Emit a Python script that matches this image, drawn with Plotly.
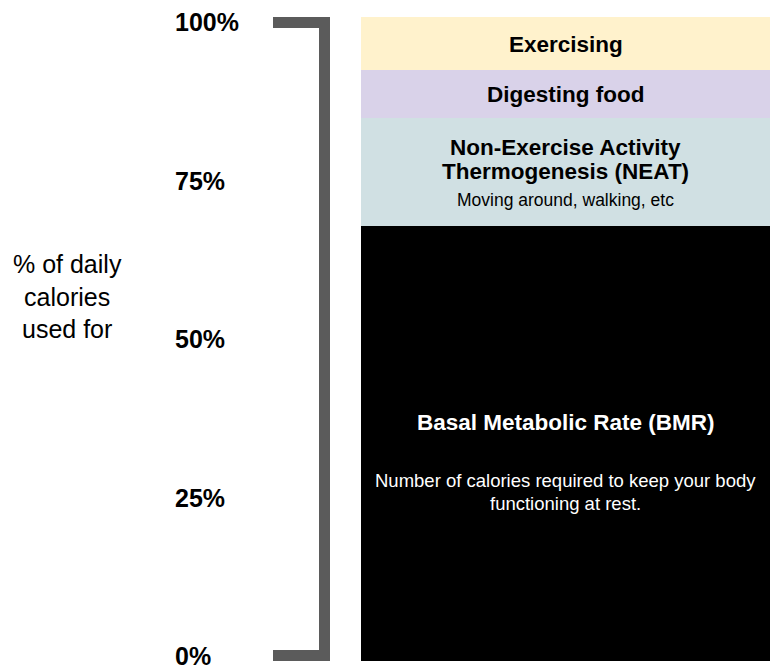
import plotly.graph_objects as go
import numpy as np

# Data (bottom to top of the stack)
components = ["Basal Metabolic Rate (BMR)", "Non-Exercise Activity Thermogenesis (NEAT)",
              "Digesting food", "Exercising"]
shares = [67.6, 16.7, 7.4, 8.3]
colors = ["#000000", "#d0e0e3", "#d9d2e9", "#fff2cc"]
text_colors = ["#ffffff", "#000000", "#000000", "#000000"]
tick_values = [0, 25, 50, 75, 100]
tick_labels = ["0%", "25%", "50%", "75%", "100%"]
category = ["Daily calories"]

FONT = "Liberation Sans, Arial, sans-serif"

fig = go.Figure()
for name, v, c in zip(components, shares, colors):
    fig.add_trace(go.Bar(x=category, y=[v], name=name, marker=dict(color=c, line=dict(width=0)),
                         hoverinfo="name+y", showlegend=False))

bases = np.concatenate([[0], np.cumsum(shares)[:-1]])
mids = bases + np.array(shares) / 2

# text lines per segment: (text, size, bold, yshift)
seg_lines = [
    [("Basal Metabolic Rate (BMR)", 22.5, True, 21),
     ("Number of calories required to keep your body", 18.5, False, -37),
     ("functioning at rest.", 18.5, False, -60)],
    [("Non-Exercise Activity", 22.5, True, 24),
     ("Thermogenesis (NEAT)", 22.5, True, 0),
     ("Moving around, walking, etc", 17.5, False, -28)],
    [("Digesting food", 22.5, True, 0)],
    [("Exercising", 22.5, True, -1)],
]

annotations = []
for mid, lines, tc in zip(mids, seg_lines, text_colors):
    for txt, size, bold, ysh in lines:
        annotations.append(dict(
            x=0, y=mid, xref="x", yref="y", text=f"<b>{txt}</b>" if bold else txt,
            showarrow=False, xanchor="center", yanchor="middle", yshift=ysh,
            font=dict(family=FONT, size=size, color=tc)))

annotations.append(dict(
    x=67 / 770, y=0.5, xref="paper", yref="paper", xanchor="center", yanchor="middle",
    yshift=43, text="% of daily<br>calories<br>used for", showarrow=False,
    font=dict(family=FONT, size=25, color="#000000"), align="center"))

# bracket
bracket_color = "#5b5b5b"
shapes = [
    dict(type="rect", xref="paper", yref="y", x0=273 / 770, x1=330 / 770,
         ysizemode="pixel", yanchor=100, y0=0, y1=-11,
         fillcolor=bracket_color, line=dict(width=0), layer="above"),
    dict(type="rect", xref="paper", yref="y", x0=319 / 770, x1=330 / 770, y0=0, y1=100,
         fillcolor=bracket_color, line=dict(width=0), layer="above"),
    dict(type="rect", xref="paper", yref="y", x0=273 / 770, x1=330 / 770,
         ysizemode="pixel", yanchor=0, y0=0, y1=11,
         fillcolor=bracket_color, line=dict(width=0), layer="above"),
]

fig.update_layout(
    width=770, height=666,
    margin=dict(l=0, r=0, t=17.3, b=5.3, pad=0, autoexpand=False),
    paper_bgcolor="#ffffff", plot_bgcolor="#ffffff",
    barmode="stack", bargap=0,
    xaxis=dict(domain=[361 / 770, 1], range=[-0.5, 0.5], showgrid=False, zeroline=False,
               showticklabels=False, showline=False, ticks="", automargin=False),
    yaxis=dict(range=[0, 100], showgrid=False, zeroline=False, showticklabels=False,
               showline=False, ticks="", automargin=False),
    yaxis2=dict(overlaying="y", side="right", anchor="free", position=174 / 770,
                range=[-0.74, 100.9], tickvals=tick_values, ticktext=tick_labels,
                showgrid=False, zeroline=False, showline=False, ticks="",
                ticklabeloverflow="allow", automargin=False,
                tickfont=dict(family=FONT, size=25, color="#000000", weight="bold")),
    annotations=annotations, shapes=shapes,
    font=dict(family=FONT),
)

fig.add_trace(go.Scatter(x=[None], y=[None], yaxis="y2", showlegend=False, hoverinfo="skip"))

fig.write_html("out.html")
